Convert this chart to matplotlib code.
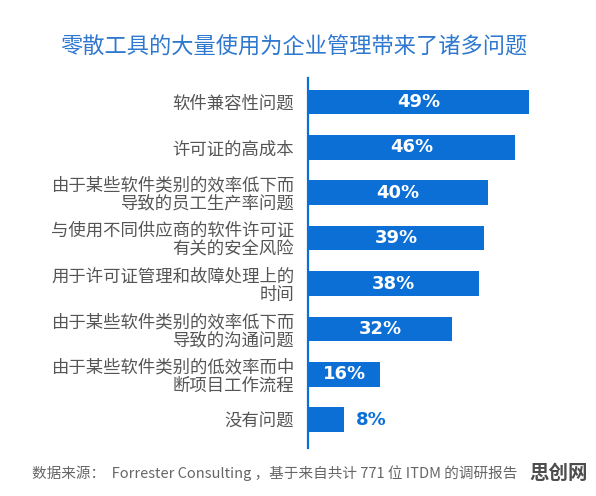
import matplotlib
matplotlib.use("Agg")
import matplotlib.pyplot as plt

plt.rcParams['font.family'] = ['Noto Sans CJK SC', 'DejaVu Sans']

# data
categories = [
    '软件兼容性问题',
    '许可证的高成本',
    '由于某些软件类别的效率低下而\n导致的员工生产率问题',
    '与使用不同供应商的软件许可证\n有关的安全风险',
    '用于许可证管理和故障处理上的\n时间',
    '由于某些软件类别的效率低下而\n导致的沟通问题',
    '由于某些软件类别的低效率而中\n断项目工作流程',
    '没有问题',
]
values = [49, 46, 40, 39, 38, 32, 16, 8]

title = '零散工具的大量使用为企业管理带来了诸多问题'
source = '数据来源：  Forrester Consulting ，基于来自共计 771 位 ITDM 的调研报告'
watermark = '思创网'

bar_color = '#0b6fd6'
label_color = '#555555'

fig = plt.figure(figsize=(5.96, 4.96), dpi=100)
ax = fig.add_axes([0.517, 0.097, 0.423, 0.746])

pos = list(range(len(values)))
ax.barh(pos, values, height=0.54, color=bar_color)
ax.set_ylim(7.62, -0.53)
ax.set_xlim(0, 56)

for y, v in zip(pos, values):
    if v >= 12:
        ax.text(v / 2, y, f'{v}%', ha='center', va='center', color='white',
                fontsize=13, fontweight='bold', family=['DejaVu Sans'])
    else:
        ax.text(v + 2.5, y, f'{v}%', ha='left', va='center', color=bar_color,
                fontsize=13, fontweight='bold', family=['DejaVu Sans'])

ax.set_yticks(pos)
ax.set_yticklabels(categories, fontsize=12.5, color=label_color,
                   multialignment='right', linespacing=1.0)
ax.tick_params(axis='y', length=0, pad=10)
ax.set_xticks([])
for side in ['top', 'right', 'bottom']:
    ax.spines[side].set_visible(False)
ax.spines['left'].set_color(bar_color)
ax.spines['left'].set_linewidth(1.6)

fig.text(0.493, 0.905, title, ha='center', va='center', fontsize=16,
         color='#2f78cf')
fig.text(0.054, 0.046, source, ha='left', va='center', fontsize=10.5,
         color='#666666')
fig.text(0.938, 0.046, watermark, ha='center', va='center', fontsize=14,
         fontweight='bold', color='#4d4d4d')

fig.savefig('out.png', dpi=100)
